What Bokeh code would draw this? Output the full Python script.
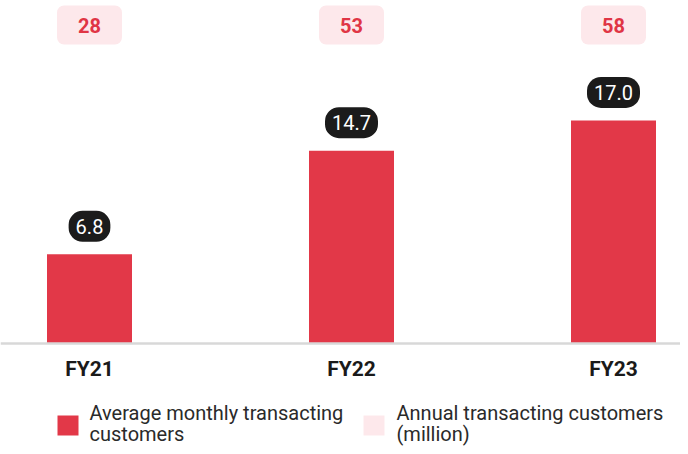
from bokeh.plotting import figure
from bokeh.models import Range1d, Span, ColumnDataSource
from bokeh.core.properties import value
from bokeh.embed import file_html
from bokeh.resources import INLINE

# ---- data ----
categories = ["FY21", "FY22", "FY23"]
monthly_customers = [6.8, 14.7, 17.0]          # million, bars
annual_customers = [28, 53, 58]                # million, pink pills
monthly_labels = ["6.8", "14.7", "17.0"]
annual_labels = ["28", "53", "58"]
legend_monthly = ["Average monthly transacting", "customers"]
legend_annual = ["Annual transacting customers", "(million)"]

# ---- layout (pixels of the 688x454 picture) ----
W, H = 680, 446
M = 0
KX = 262.0          # px per category step
KY = 13.12          # px per million
FIRST_X_PX = 89     # centre of first bar
BASE_PX = 343       # baseline
X_START = -(FIRST_X_PX - M) / KX
X_END = X_START + W / KX
Y_END = (BASE_PX - M) / KY
Y_START = Y_END - H / KY

def px2x(px):
    return X_START + (px - M) / KX

def py2y(py):
    return Y_END - (py - M) / KY

RED = "#e23848"
PINK = "#fde8eb"
FONT = value("Roboto")

p = figure(width=W, height=H, x_range=Range1d(X_START, X_END), y_range=Range1d(Y_START, Y_END),
           x_axis_type=None, y_axis_type=None, toolbar_location=None, output_backend="svg",
           min_border=0, outline_line_color=None, background_fill_color="white")
p.grid.visible = False

xs = list(range(len(categories)))
src = ColumnDataSource(dict(x=xs, cat=categories, m=monthly_customers, a=annual_customers,
                            ml=monthly_labels, al=annual_labels,
                            top=[Y_END] * len(xs)))

p.add_layout(Span(location=0, dimension="width", line_color="#d8d8d8", line_width=2.5))

p.vbar(x="x", top="m", bottom=0, width=85 / KX, source=src, fill_color=RED, line_color=None)

# value pills above bars
p.text(x="x", y="m", text="ml", source=src, y_offset=-28, text_align="center",
       text_baseline="middle", text_color="white", text_font=FONT, text_font_size="20px",
       text_font_style="normal",
       background_fill_color="#1b1b1b", border_radius=14,
       padding=dict(left=7, right=7, top=8, bottom=8))

# annual pills at top
p.text(x="x", y="top", text="al", source=src, y_offset=24.5, text_align="center",
       text_baseline="middle", text_color="#e03545", text_font=FONT, text_font_size="20px",
       text_font_style="bold", background_fill_color=PINK, border_radius=7,
       padding=dict(left=21, right=21, top=12, bottom=12))

# category labels
p.text(x="x", y=0, text="cat", source=src, y_offset=25, text_align="center",
       text_baseline="middle", text_color="#1a1a1a", text_font=FONT, text_font_size="21px",
       text_font_style="bold")

# legend
p.rect(x=[px2x(67.5), px2x(373.5)], y=[py2y(425), py2y(425)], width=21, height=20,
       width_units="screen", height_units="screen", fill_color=[RED, PINK], line_color=None)
for x0, lines in ((89, legend_monthly), (396, legend_annual)):
    for i, t in enumerate(lines):
        p.text(x=[px2x(x0)], y=[py2y(412 + 21 * i)], text=[t], text_align="left",
               text_baseline="middle", text_color="#2a2a2a", text_font=FONT,
               text_font_size="20px")

open("out.html", "w").write(file_html(p, INLINE))
